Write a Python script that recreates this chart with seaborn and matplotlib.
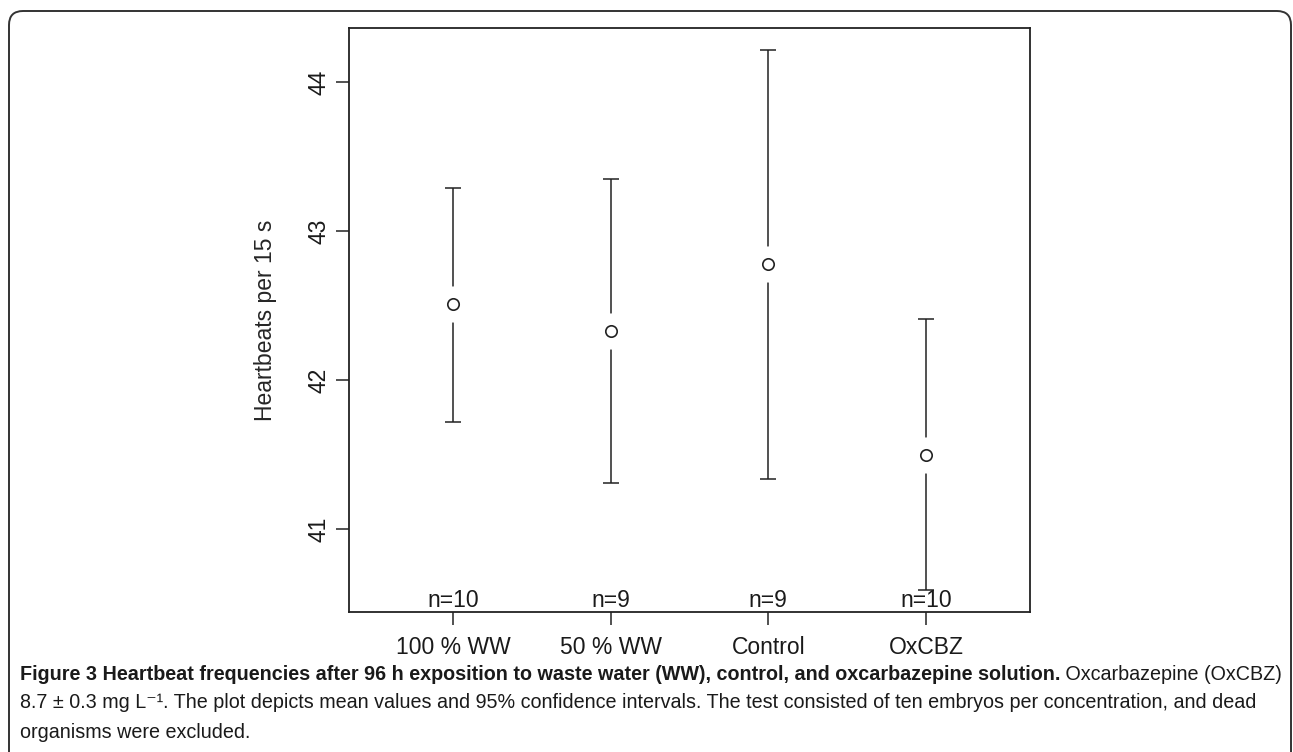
import matplotlib
matplotlib.use('Agg')
import matplotlib.pyplot as plt
from matplotlib import font_manager
from matplotlib.patches import FancyBboxPatch
from matplotlib.transforms import IdentityTransform, blended_transform_factory
import numpy as np
import pandas as pd
import seaborn as sns

# data (mean and 95% CI per group)
groups = ['100 % WW', '50 % WW', 'Control', 'OxCBZ']
means = [42.51, 42.33, 42.78, 41.50]
ci_low = [41.72, 41.31, 41.34, 40.59]
ci_high = [43.29, 43.35, 44.22, 42.41]
n_labels = ['n=10', 'n=9', 'n=9', 'n=10']
yticks = [41, 42, 43, 44]

caption_bold = ('Figure 3 Heartbeat frequencies after 96 h exposition to waste water (WW), '
                'control, and oxcarbazepine solution.')
caption_line1_rest = ' Oxcarbazepine (OxCBZ)'
caption_line2 = ('8.7 \u00b1 0.3 mg L\u207b\u00b9. The plot depicts mean values and 95% confidence '
                 'intervals. The test consisted of ten embryos per concentration, and dead')
caption_line3 = 'organisms were excluded.'

sns.set_theme(style='ticks')
plt.rcParams['font.family'] = ['Liberation Sans', 'DejaVu Sans']
plt.rcParams['text.color'] = '#1a1a1a'

installed = {f.name for f in font_manager.fontManager.ttflist}
cap_font = 'Liberation Sans Narrow' if 'Liberation Sans Narrow' in installed else 'Liberation Sans'
cap_family = [cap_font, 'DejaVu Sans']

W, H = 1293, 752
fig = plt.figure(figsize=(W / 100, H / 100), dpi=100)
ax = fig.add_axes([349 / W, 1 - 612 / H, 681 / W, 584 / H])

df = pd.DataFrame({'group': groups, 'mean': means, 'low': ci_low, 'high': ci_high})
xpos = np.arange(len(groups))
m = df['mean'].to_numpy()
ink = '#222222'

# confidence interval bars
ax.errorbar(xpos, m, yerr=[m - df['low'], df['high'] - m], fmt='none',
            ecolor=ink, elinewidth=1.1, capsize=6, capthick=1.1, zorder=2)
# white halo gives the R plotCI gap around each mean
sns.scatterplot(data=df, x='group', y='mean', ax=ax, s=26 ** 2, color='white',
                linewidth=0, zorder=3, legend=False)
sns.scatterplot(data=df, x='group', y='mean', ax=ax, s=8.2 ** 2, facecolor='white',
                edgecolor=ink, linewidth=1.2, zorder=4, legend=False)

lo, hi = min(ci_low), max(ci_high)
pad = 0.04 * (hi - lo)
ax.set_ylim(lo - pad, hi + pad)
ax.set_xlim(-0.66, len(groups) - 1 + 0.66)
ax.set_xticks(xpos)
ax.set_xticklabels(groups)
ax.set_yticks(yticks)
ax.set_xlabel('')
ax.set_ylabel('Heartbeats per 15 s', fontsize=16.5)
ax.yaxis.set_label_coords(-0.122, 0.5)
ax.yaxis.label.set_va('center')

for s in ax.spines.values():
    s.set_visible(True)
    s.set_linewidth(1.3)
    s.set_color(ink)
ax.tick_params(axis='both', direction='out', length=9.5, width=1.1, color=ink,
               labelsize=16.5, labelcolor='#1a1a1a')
ax.tick_params(axis='x', pad=7.5)
ax.tick_params(axis='y', pad=3.5, labelrotation=90)
for lab in ax.get_yticklabels():
    lab.set_va('center')

trans = blended_transform_factory(ax.transData, ax.transAxes)
for i, lab in enumerate(n_labels):
    ax.text(i, 0.009, lab, transform=trans, ha='center', va='baseline', fontsize=16.5)

# rounded frame around the figure panel
frame = FancyBboxPatch((9, -40), 1282, H - 11 + 40, boxstyle='round,pad=0,rounding_size=14',
                       transform=IdentityTransform(), fill=False, edgecolor='#333333',
                       linewidth=1.4, clip_on=False)
fig.patches.append(frame)

# caption, sized so the first line fills the panel width
x0, x1 = 20, 1283
ys = [674, 703, 732]
renderer = fig.canvas.get_renderer()
fs0 = 14
t1 = fig.text(x0 / W, 1 - ys[0] / H, caption_bold, fontsize=fs0, fontweight='bold',
              family=cap_family, va='center')
bb1 = t1.get_window_extent(renderer)
t2 = fig.text(bb1.x1 / W, 1 - ys[0] / H, caption_line1_rest, fontsize=fs0,
              family=cap_family, va='center')
bb2 = t2.get_window_extent(renderer)
fs = fs0 * (x1 - x0) / (bb2.x1 - bb1.x0)
t1.set_fontsize(fs)
bb1 = t1.get_window_extent(renderer)
t2.set_fontsize(fs)
t2.set_x(bb1.x1 / W)
fig.text(x0 / W, 1 - ys[1] / H, caption_line2, fontsize=fs, family=cap_family, va='center')
fig.text(x0 / W, 1 - ys[2] / H, caption_line3, fontsize=fs, family=cap_family, va='center')

fig.savefig('out.png', dpi=100)
